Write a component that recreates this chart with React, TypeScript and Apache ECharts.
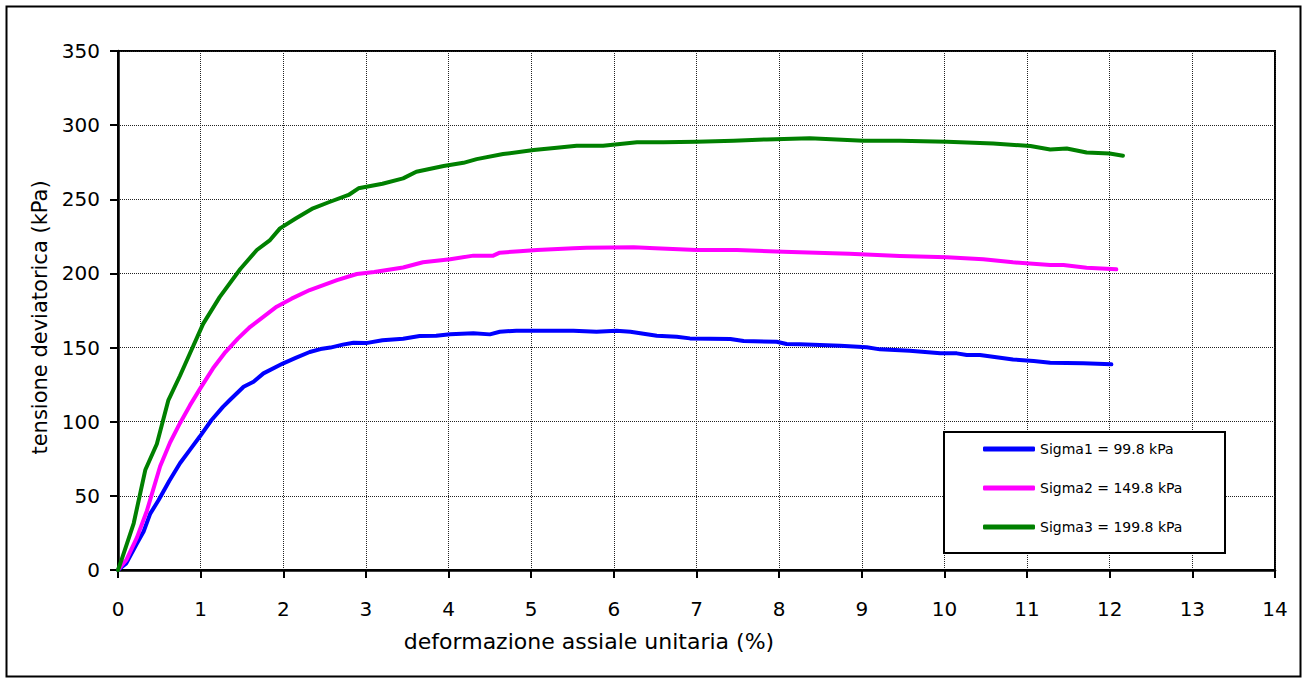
import React, { useEffect, useRef } from "react";
import * as echarts from "echarts";

const xTicksMax = 14;
const yTicksMax = 350;

const sigma1X = [0, 0.1, 0.23, 0.31, 0.39, 0.49, 0.62, 0.75, 0.87, 0.99, 1.13, 1.27, 1.36, 1.52, 1.64, 1.76, 2.0, 2.15, 2.32, 2.45, 2.57, 2.72, 2.85, 3.0, 3.2, 3.45, 3.65, 3.85, 4.02, 4.3, 4.5, 4.62, 4.82, 5.19, 5.51, 5.79, 6.03, 6.2, 6.52, 6.76, 6.92, 7.41, 7.57, 7.97, 8.09, 8.25, 8.74, 9.06, 9.22, 9.58, 9.95, 10.15, 10.27, 10.43, 10.83, 11.08, 11.28, 11.68, 12.02];
const sigma1Y = [0, 4.5, 18, 26, 38, 47, 60, 72, 81, 90, 101, 110, 115, 123.6, 127, 132.6, 139.4, 143, 147, 149, 150, 152, 153.3, 153, 155, 156, 157.8, 158, 159, 159.6, 158.9, 160.7, 161.4, 161.4, 161.4, 160.7, 161.4, 160.7, 158, 157.3, 156.2, 155.8, 154.4, 153.9, 152.4, 152.2, 151.2, 150.2, 148.8, 147.9, 146.1, 146.1, 145, 145, 142, 140.9, 139.8, 139.4, 138.7];

const sigma2X = [0, 0.1, 0.23, 0.35, 0.51, 0.63, 0.75, 0.87, 0.99, 1.15, 1.3, 1.45, 1.6, 1.92, 2.1, 2.32, 2.65, 2.89, 3.1, 3.45, 3.69, 4.02, 4.3, 4.54, 4.62, 4.86, 5.07, 5.51, 5.67, 6.24, 6.5, 7.0, 7.49, 8.05, 8.85, 9.46, 10.03, 10.47, 10.83, 11.28, 11.44, 11.72, 12.08];
const sigma2Y = [0, 6.7, 22, 40, 70, 86, 99, 111, 122, 136, 147, 156, 164, 177.6, 183, 188.8, 195.5, 199.6, 201, 204, 207.5, 209.5, 212, 212, 214, 215, 215.8, 216.9, 217.3, 217.6, 217, 215.8, 215.8, 214.6, 213.3, 211.7, 210.9, 209.6, 207.5, 205.7, 205.7, 203.9, 202.8];

const sigma3X = [0, 0.05, 0.19, 0.33, 0.47, 0.61, 0.75, 0.87, 1.03, 1.23, 1.48, 1.68, 1.84, 1.96, 2.15, 2.36, 2.55, 2.79, 2.91, 3.2, 3.45, 3.61, 3.94, 4.18, 4.34, 4.66, 5.03, 5.31, 5.55, 5.87, 6.28, 6.6, 7.0, 7.45, 7.85, 8.37, 9.02, 9.46, 10.03, 10.59, 11.04, 11.28, 11.48, 11.72, 12.0, 12.16];
const sigma3Y = [0, 8, 31.5, 67.4, 85, 114.6, 131, 146, 166, 184, 203, 215.8, 222.5, 230.4, 237, 243.9, 248, 252.9, 257.4, 260.5, 264.1, 268.6, 272.4, 274.6, 277.1, 280.5, 283.2, 284.8, 286.1, 286.1, 288.4, 288.5, 288.8, 289.5, 290.4, 291.1, 289.5, 289.5, 288.8, 287.7, 285.9, 283.6, 284.3, 281.6, 280.9, 279.4];

const seriesNames = ["Sigma1 = 99.8 kPa", "Sigma2 = 149.8 kPa", "Sigma3 = 199.8 kPa"];
const seriesColors = ["#0000FF", "#FF00FF", "#008000"];
const xTitle = "deformazione assiale unitaria (%)";
const yTitle = "tensione deviatorica (kPa)";

const zip = (xs: number[], ys: number[]) => xs.map((x, i) => [x, ys[i]]);

export default function App() {
  const ref = useRef<HTMLDivElement>(null);
  useEffect(() => {
    if (!ref.current) return;
    const chart = echarts.init(ref.current, null, { renderer: "svg" });
    const datasets = [zip(sigma1X, sigma1Y), zip(sigma2X, sigma2Y), zip(sigma3X, sigma3Y)];
    const labelFont = "DejaVu Sans";
    chart.setOption({
      animation: false,
      backgroundColor: "#ffffff",
      grid: {
        left: 118,
        top: 51,
        width: 1157,
        height: 519,
        show: true,
        borderColor: "#000",
        borderWidth: 2,
        backgroundColor: "transparent",
      },
      xAxis: {
        type: "value",
        min: 0,
        max: xTicksMax,
        interval: 1,
        name: xTitle,
        nameLocation: "middle",
        nameGap: 60,
        nameTextStyle: { fontFamily: labelFont, fontSize: 22, color: "#000", padding: [0, 215, 0, 0] },
        axisLine: { show: true, onZero: false, lineStyle: { color: "#000", width: 2.5 } },
        axisTick: { show: true, inside: false, length: 8, lineStyle: { color: "#000", width: 2 } },
        axisLabel: { margin: 29, fontFamily: labelFont, fontSize: 20, color: "#000" },
        splitLine: { show: true, lineStyle: { color: "#222", width: 1, type: "dotted" } },
      },
      yAxis: {
        type: "value",
        min: 0,
        max: yTicksMax,
        interval: 50,
        name: yTitle,
        nameLocation: "middle",
        nameGap: 67,
        nameRotate: 90,
        nameTextStyle: { fontFamily: labelFont, fontSize: 21, color: "#000", padding: [0, 14, 0, 0] },
        axisLine: { show: true, onZero: false, lineStyle: { color: "#000", width: 2.5 } },
        axisTick: { show: true, inside: false, length: 8, lineStyle: { color: "#000", width: 2 } },
        axisLabel: { margin: 18, fontFamily: labelFont, fontSize: 20, color: "#000" },
        splitLine: { show: true, lineStyle: { color: "#222", width: 1, type: "dotted" } },
      },
      legend: {
        show: true,
        orient: "vertical",
        left: 983,
        top: 442,
        padding: 0,
        itemGap: 25,
        itemWidth: 52,
        itemHeight: 5,
        icon: "roundRect",
        textStyle: { fontFamily: labelFont, fontSize: 14, color: "#000", lineHeight: 14 },
        data: seriesNames,
      },
      graphic: [
        {
          type: "rect",
          left: 4,
          top: 4,
          shape: { x: 0, y: 0, width: 1294, height: 670 },
          style: { fill: "none", stroke: "#000", lineWidth: 2 },
          z: 100,
        },
        {
          type: "rect",
          shape: { x: 944, y: 432, width: 281, height: 121 },
          style: { fill: "#fff", stroke: "#000", lineWidth: 2 },
          z: 4,
        },
      ],
      series: datasets.map((d, i) => ({
        type: "line",
        name: seriesNames[i],
        data: d,
        showSymbol: false,
        symbol: "none",
        smooth: false,
        color: seriesColors[i],
        lineStyle: { color: seriesColors[i], width: 4, join: "round", cap: "round" },
        z: 3,
      })),
    });
    return () => chart.dispose();
  }, []);
  return (
    <div
      ref={ref}
      style={{ position: "fixed", left: 0, top: 0, width: 1303, height: 678, background: "#fff" }}
    />
  );
}
